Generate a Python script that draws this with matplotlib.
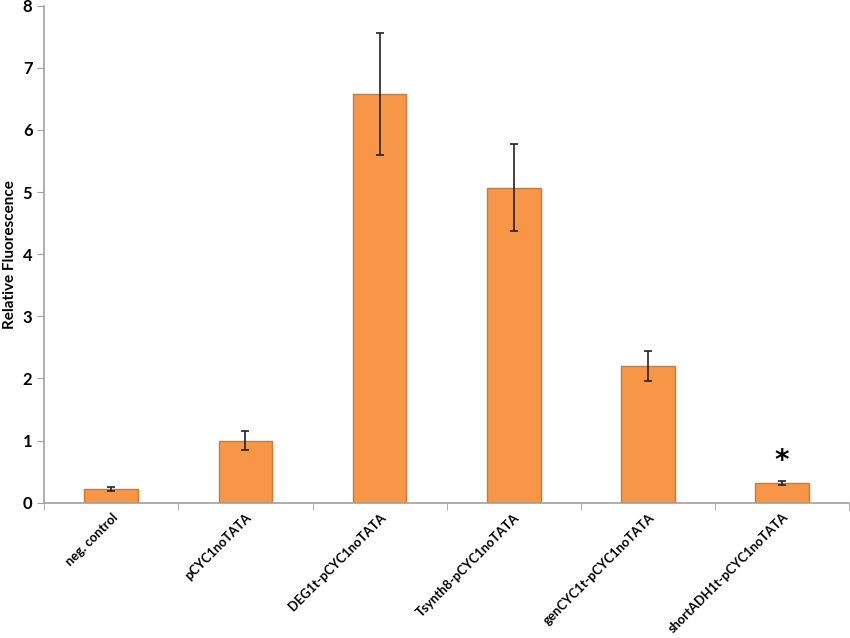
import matplotlib
matplotlib.use('Agg')
import matplotlib.pyplot as plt
import numpy as np

categories = ['neg. control', 'pCYC1noTATA', 'DEG1t-pCYC1noTATA', 'Tsynth8-pCYC1noTATA',
              'genCYC1t-pCYC1noTATA', 'shortADH1t-pCYC1noTATA']
values = [0.22, 1.00, 6.58, 5.07, 2.20, 0.32]
errors = [0.03, 0.15, 0.98, 0.70, 0.24, 0.03]
y_ticks = [0, 1, 2, 3, 4, 5, 6, 7, 8]

plt.rcParams['font.family'] = ['Lato', 'DejaVu Sans']

fig = plt.figure(figsize=(8.5, 6.38), dpi=100)
ax = fig.add_axes([0.052, 0.212, 0.947, 0.779])

x = np.arange(len(categories))
ax.bar(x, values, width=0.4, color='#F79646', edgecolor='#C97A3C', linewidth=1,
       yerr=errors, capsize=3, error_kw=dict(ecolor='#222222', elinewidth=1.2, capthick=1.2))

# significance marker
ax.text(x[-1], values[-1] + 0.12, '*', ha='center', va='bottom', fontsize=20,
        fontweight='bold', family='DejaVu Sans')

ax.set_xlim(-0.5, len(categories) - 0.5)
ax.set_ylim(0, 8)
ax.set_yticks(y_ticks)
ax.set_yticklabels([str(t) for t in y_ticks], fontsize=12, fontweight='bold')
ax.set_ylabel('Relative Fluorescence', fontsize=11, fontweight='bold')
ax.yaxis.set_label_coords(-0.034, 0.5)

ax.set_xticks(x)
ax.set_xticklabels(categories, rotation=45, ha='right', rotation_mode='anchor',
                   fontsize=9.3, fontweight='bold')
ax.tick_params(axis='x', which='major', length=0, pad=6)
ax.set_xticks(np.arange(-0.5, len(categories), 1.0), minor=True)
ax.tick_params(axis='x', which='minor', length=5, color='#A0A0A0')
ax.tick_params(axis='y', length=5, color='#A0A0A0')

for side in ['top', 'right']:
    ax.spines[side].set_visible(False)
for side in ['left', 'bottom']:
    ax.spines[side].set_color('#A0A0A0')
    ax.spines[side].set_linewidth(1.2)

fig.savefig('out.png', dpi=100)
